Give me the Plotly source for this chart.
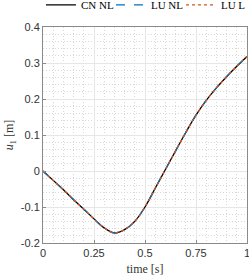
import plotly.graph_objects as go

time = [0, 0.05, 0.1, 0.15, 0.2, 0.25, 0.3, 0.35, 0.4, 0.45, 0.5, 0.55, 0.6,
        0.65, 0.7, 0.75, 0.8, 0.85, 0.9, 0.95, 1.0]
cn_nl = [0, -0.026, -0.052, -0.080, -0.106, -0.133, -0.158, -0.172, -0.163, -0.140,
         -0.100, -0.048, 0.004, 0.056, 0.107, 0.155, 0.196, 0.231, 0.262, 0.291, 0.318]
lu_nl = list(cn_nl)
lu_l = list(cn_nl)

series_names = ["CN NL", "LU NL", "LU L"]
x_ticks = [0, 0.25, 0.5, 0.75, 1]
x_tick_labels = ["0", "0.25", "0.5", "0.75", "1"]
y_ticks = [-0.2, -0.1, 0, 0.1, 0.2, 0.3, 0.4]
y_tick_labels = ["-0.2", "-0.1", "0", "0.1", "0.2", "0.3", "0.4"]

fig = go.Figure()
fig.add_trace(go.Scatter(x=time, y=cn_nl, name=series_names[0], mode="lines",
                         line=dict(color="black", width=1.3, shape="spline")))
fig.add_trace(go.Scatter(x=time, y=lu_nl, name=series_names[1], mode="lines",
                         line=dict(color="#0072BD", width=1.3, dash="dash", shape="spline")))
fig.add_trace(go.Scatter(x=time, y=lu_l, name=series_names[2], mode="lines",
                         line=dict(color="#D95319", width=1.3, dash="dot", shape="spline")))

axis_common = dict(
    showline=True, linecolor="#8a8a8a", linewidth=1, mirror=True,
    ticks="inside", ticklen=3, tickcolor="#8a8a8a",
    showgrid=True, gridcolor="#e6e6e6", gridwidth=1,
    zeroline=False, automargin=False, ticklabeloverflow="allow",
    tickfont=dict(family="Liberation Sans, Arial", size=11, color="#333333"),
)

fig.update_layout(
    width=249, height=280,
    margin=dict(l=43, r=2, t=27, b=37, autoexpand=False),
    plot_bgcolor="white", paper_bgcolor="white",
    showlegend=True,
    legend=dict(orientation="h", x=-0.01, xanchor="left", y=1.17, yanchor="top",
                yref="paper", xref="paper",
                font=dict(family="Liberation Serif, DejaVu Serif", size=11, color="black"),
                itemwidth=30, entrywidth=25, entrywidthmode="pixels",
                tracegroupgap=0, bgcolor="rgba(0,0,0,0)"),
    xaxis=dict(range=[0, 1], tickvals=x_ticks, ticktext=x_tick_labels,
               minor=dict(dtick=0.05, showgrid=True, griddash="1px,2px", gridcolor="#d8d8d8", ticks=""),
               title=dict(text="time [s]", standoff=6,
                          font=dict(family="Liberation Serif, DejaVu Serif", size=12, color="#333333")),
               **axis_common),
    yaxis=dict(range=[-0.2, 0.4], tickvals=y_ticks, ticktext=y_tick_labels,
               minor=dict(dtick=0.02, showgrid=True, griddash="1px,2px", gridcolor="#d8d8d8", ticks=""),
               title=dict(text="<i>u</i><sub>1</sub> [m]", standoff=4,
                          font=dict(family="Liberation Serif, DejaVu Serif", size=12, color="#333333")),
               **axis_common),
)

fig.write_html("out.html", config={"displayModeBar": False},
               post_script="document.body.style.margin='0';")
